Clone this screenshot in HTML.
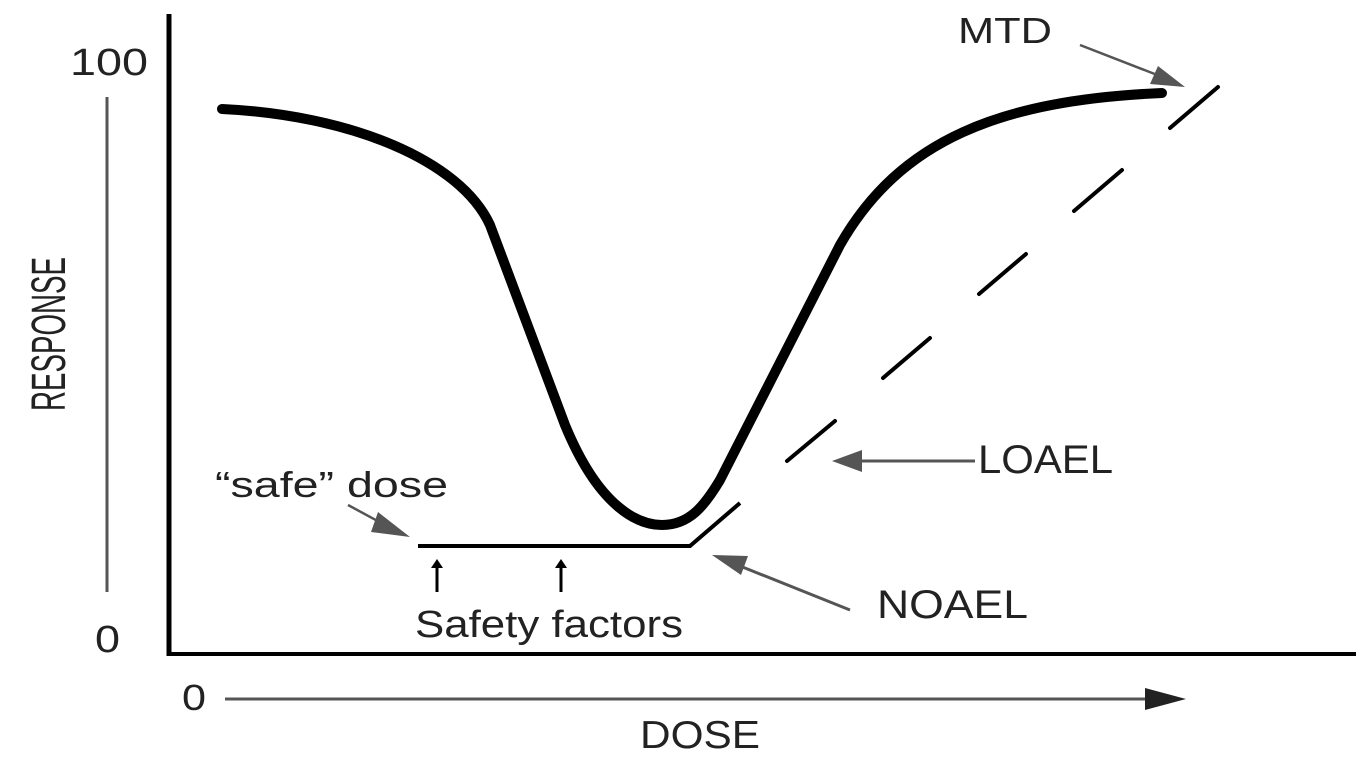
<!DOCTYPE html>
<html><head><style>html,body{margin:0;padding:0;background:#fff;}svg{display:block}</style></head>
<body>
<svg width="1365" height="764" viewBox="0 0 1365 764" xmlns="http://www.w3.org/2000/svg" font-family="'Liberation Sans', sans-serif">
<!-- axes -->
<line x1="169" y1="14" x2="169" y2="656" stroke="#000" stroke-width="5"/>
<line x1="167" y1="654" x2="1356" y2="654" stroke="#000" stroke-width="4"/>
<line x1="107" y1="97" x2="107" y2="592" stroke="#555" stroke-width="3"/>
<text x="70" y="75" font-size="38" fill="#222" textLength="78" lengthAdjust="spacingAndGlyphs">100</text>
<text x="95" y="652" font-size="38" fill="#222" textLength="25" lengthAdjust="spacingAndGlyphs">0</text>
<text transform="translate(65,334) rotate(-90)" text-anchor="middle" font-size="48" fill="#222" textLength="154" lengthAdjust="spacingAndGlyphs">RESPONSE</text>
<!-- dose axis -->
<text x="182" y="710" font-size="36" fill="#222" textLength="24" lengthAdjust="spacingAndGlyphs">0</text>
<line x1="225" y1="699" x2="1150" y2="699" stroke="#555" stroke-width="3"/>
<path d="M1145,688 L1186,699 L1145,710 z" fill="#222"/>
<text x="640" y="748" font-size="39" fill="#222" textLength="120" lengthAdjust="spacingAndGlyphs">DOSE</text>
<!-- curve -->
<path d="M222,109 C350,115 460,160 490,225 L565,425 C600,510 640,525 662,525 C690,525 705,505 720,480 L840,245 C900,140 1000,100 1162,93" fill="none" stroke="#000" stroke-width="10" stroke-linecap="round"/>
<!-- safe/NOAEL line -->
<polyline points="418,546 690,546 740,503" fill="none" stroke="#000" stroke-width="4"/>
<!-- dashes -->
<g stroke="#000" stroke-width="4" stroke-linecap="round">
<line x1="787" y1="461" x2="835" y2="421"/>
<line x1="883" y1="378" x2="930" y2="338"/>
<line x1="979" y1="294" x2="1026" y2="254"/>
<line x1="1074" y1="211" x2="1122" y2="170"/>
<line x1="1170" y1="128" x2="1218" y2="87"/>
</g>
<!-- safety arrows -->
<g stroke="#000" stroke-width="3">
<line x1="437" y1="592" x2="437" y2="564"/>
<line x1="561" y1="592" x2="561" y2="564"/>
</g>
<path d="M431,568 L437,559 L443,568 z" fill="#000"/>
<path d="M555,568 L561,559 L567,568 z" fill="#000"/>
<text x="415" y="637" font-size="38" fill="#222" textLength="268" lengthAdjust="spacingAndGlyphs">Safety factors</text>
<!-- labels + pointer arrows -->
<text x="215" y="497" font-size="36" fill="#222" textLength="233" lengthAdjust="spacingAndGlyphs">“safe” dose</text>
<line x1="348" y1="505" x2="385" y2="525" stroke="#555" stroke-width="2.5"/>
<path d="M378,512 L410,537 L371,532 z" fill="#555"/>
<text x="978" y="473" font-size="40" fill="#222" textLength="135" lengthAdjust="spacingAndGlyphs">LOAEL</text>
<line x1="975" y1="461" x2="850" y2="461" stroke="#555" stroke-width="3"/>
<path d="M862,450 L832,461 L862,472 z" fill="#555"/>
<text x="877" y="618" font-size="40" fill="#222" textLength="151" lengthAdjust="spacingAndGlyphs">NOAEL</text>
<line x1="850" y1="610" x2="735" y2="564" stroke="#555" stroke-width="3"/>
<path d="M748,556 L712,555 L741,575 z" fill="#555"/>
<text x="958" y="43" font-size="36" fill="#222" textLength="94" lengthAdjust="spacingAndGlyphs">MTD</text>
<line x1="1080" y1="45" x2="1165" y2="78" stroke="#555" stroke-width="2.5"/>
<path d="M1158,66 L1185,87 L1150,84 z" fill="#555"/>
</svg>
</body></html>
